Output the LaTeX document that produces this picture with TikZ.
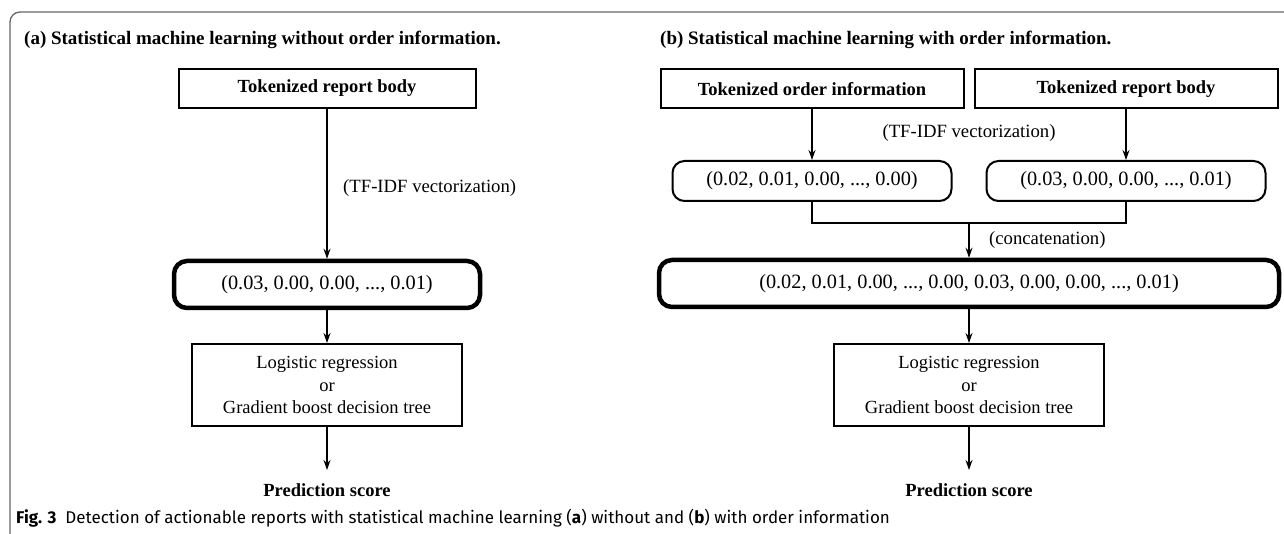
\documentclass[tikz,border=0pt]{standalone}
\usepackage{fontspec}
\setmainfont{Liberation Serif}
\newfontfamily\capfont{Fira Sans}
\usetikzlibrary{arrows.meta,calc}
\begin{document}
\begin{tikzpicture}[x=1pt,y=-1pt,
  box/.style={draw, line width=2pt, minimum height=39pt, inner sep=0pt, font=\fontsize{18.5}{22}\selectfont\bfseries},
  vec/.style={draw, rounded corners=12pt, line width=2pt, inner sep=0pt, minimum height=40pt, font=\fontsize{20.3}{23}\selectfont},
  thickvec/.style={vec, line width=4.5pt, minimum height=47pt, rounded corners=13pt},
  model/.style={draw, line width=2pt, align=center, inner sep=0pt, minimum width=270pt, minimum height=82pt, font=\fontsize{18.5}{22.5}\selectfont},
  lbl/.style={font=\fontsize{18.7}{22}\selectfont, inner sep=0pt},
  bold/.style={font=\fontsize{18.5}{22}\selectfont\bfseries, inner sep=0pt},
  arr/.style={line width=1.3pt, -{Stealth[length=10pt,width=7pt]}},
  conn/.style={line width=1.3pt},
  ttl/.style={font=\fontsize{19}{22}\selectfont\bfseries, anchor=west, inner sep=0pt},
  frame/.style={draw=black!60, line width=1.3pt, rounded corners=10pt}]
\useasboundingbox (0,0) rectangle (1284,534);
\draw[frame] (10,540) -- (10,12) -- (1300,12);

% panel (a)
\node[ttl] (ta) at (24,40) {(a) Statistical machine learning without order information.};
\node[box, minimum width=297pt] (a1) at (327,88.5) {Tokenized report body};
\node[thickvec, minimum width=306pt] (a2) at (327,284.5) {(0.03, 0.00, 0.00, ..., 0.01)};
\node[model] (a3) at (327,385) {Logistic regression\\or\\Gradient boost decision tree};
\node[bold] (a4) at (327,490) {Prediction score};
\draw[arr] (a1.south) -- (a2.north);
\node[lbl, anchor=west] (la) at (343,188) {(TF-IDF vectorization)};
\draw[arr] (a2.south) -- (a3.north);
\coordinate (a4t) at (327,470);
\draw[arr] (a3.south) -- (a4t);

% panel (b)
\node[ttl] (tb) at (660,40) {(b) Statistical machine learning with order information.};
\node[box, minimum width=303pt] (b1) at (812,89) {Tokenized order information};
\node[box, minimum width=303pt] (b2) at (1126,89) {Tokenized report body};
\node[lbl] (lb) at (969,133) {(TF-IDF vectorization)};
\node[vec, minimum width=279pt] (v1) at (812,181) {(0.02, 0.01, 0.00, ..., 0.00)};
\node[vec, minimum width=279pt] (v2) at (1126,181) {(0.03, 0.00, 0.00, ..., 0.01)};
\draw[arr] (b1.south) -- (v1.north);
\draw[arr] (b2.south) -- (v2.north);
\node[thickvec, minimum width=620pt] (big) at (969,283.5) {(0.02, 0.01, 0.00, ..., 0.00, 0.03, 0.00, 0.00, ..., 0.01)};
\coordinate (j) at (969,223);
\draw[conn] (v1.south) -- (v1.south |- j) -- (v2.south |- j) -- (v2.south);
\draw[arr] (j) -- (big.north);
\node[lbl, anchor=west] (lc) at (989,240) {(concatenation)};
\node[model] (b3) at (969,385) {Logistic regression\\or\\Gradient boost decision tree};
\draw[arr] (big.south) -- (b3.north);
\coordinate (b4t) at (969,470);
\draw[arr] (b3.south) -- (b4t);
\node[bold] (b4) at (969,490) {Prediction score};

% caption
\node[anchor=west, inner sep=0pt, font=\capfont\fontsize{17}{20}\selectfont] (cap) at (16,518)
  {\textbf{Fig. 3}\hspace{9pt}Detection of actionable reports with statistical machine learning (\textbf{a}) without and (\textbf{b}) with order information};
\end{tikzpicture}
\end{document}
